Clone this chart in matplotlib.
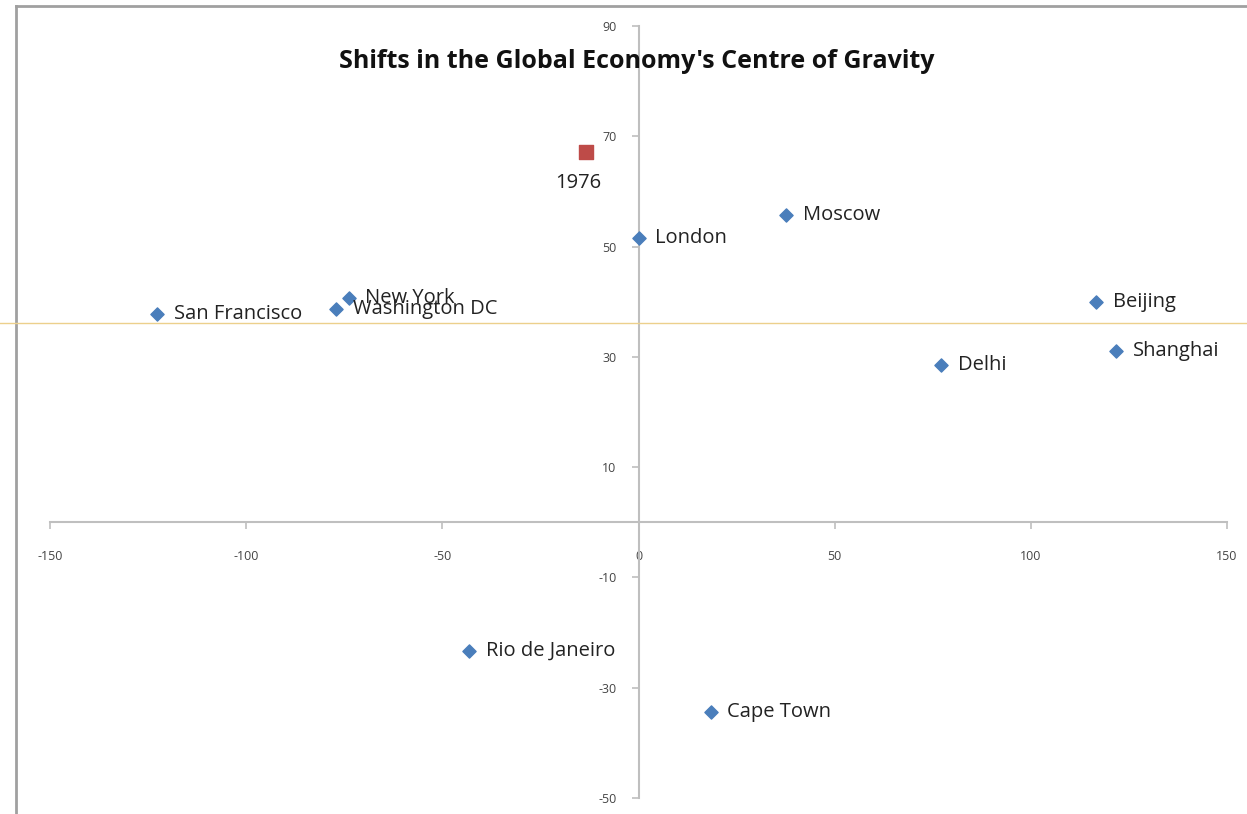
import matplotlib.pyplot as plt
from matplotlib.lines import Line2D

# ── data: longitude (x) / latitude (y) ─────────────────────────────────────
cities = ['London', 'Moscow', 'New York', 'Washington DC', 'San Francisco',
          'Beijing', 'Shanghai', 'Delhi', 'Rio de Janeiro', 'Cape Town']
lon = [0.0, 37.7, -73.9, -77.0, -122.6, 116.7, 121.8, 77.2, -43.1, 18.4]
lat = [51.5, 55.8, 40.7, 38.7, 37.8, 40.0, 31.1, 28.5, -23.3, -34.4]

centre_label = '1976'
centre_lon = [-13.3]
centre_lat = [67.1]

xticks = [-150, -100, -50, 0, 50, 100, 150]
yticks = [-50, -30, -10, 10, 30, 50, 70, 90]

plt.rcParams['font.family'] = ['Open Sans', 'DejaVu Sans']
plt.rcParams['axes.unicode_minus'] = False

fig = plt.figure(figsize=(12.47, 8.14), dpi=100)
ax = fig.add_axes([50 / 1247, 16 / 814, (1227 - 50) / 1247, (798 - 26) / 814])

ax.scatter(lon, lat, marker='D', s=45, color='#4a7ebb', zorder=3)
ax.scatter(centre_lon, centre_lat, marker='s', s=95, color='#be4b48', zorder=3)

for name, x, y in zip(cities, lon, lat):
    ax.annotate(name, (x, y), xytext=(12, 0), textcoords='offset points',
                ha='left', va='center', fontsize=14.5, color='#222222')
ax.annotate(centre_label, (centre_lon[0], centre_lat[0]), xytext=(-6, -22),
            textcoords='offset points', ha='center', va='center',
            fontsize=14.5, color='#222222')

ax.set_xlim(-150, 150)
ax.set_ylim(-50, 90)
ax.set_xticks(xticks)
ax.set_yticks(yticks)

for s in ('top', 'right'):
    ax.spines[s].set_visible(False)
ax.spines['left'].set_position(('data', 0))
ax.spines['bottom'].set_position(('data', 0))
for s in ('left', 'bottom'):
    ax.spines[s].set_color('#bfbfbf')
    ax.spines[s].set_linewidth(1.5)

ax.tick_params(axis='both', direction='out', length=5, width=1.2,
               color='#bfbfbf', labelsize=9, labelcolor='#444444')
ax.tick_params(axis='x', pad=15)
ax.tick_params(axis='y', pad=11)
ax.patch.set_visible(False)

fig.text(637 / 1247, 1 - 62 / 814, "Shifts in the Global Economy's Centre of Gravity",
         ha='center', va='center', fontsize=18, fontweight='bold', color='#111111')

# chart frame (left + top edges visible) and the thin stray guide line
fig.add_artist(Line2D([16 / 1247, 16 / 1247], [0, 1 - 6 / 814],
                      transform=fig.transFigure, color='#a0a0a0', lw=2))
fig.add_artist(Line2D([16 / 1247, 1], [1 - 6 / 814, 1 - 6 / 814],
                      transform=fig.transFigure, color='#a0a0a0', lw=2))
fig.add_artist(Line2D([0, 1], [1 - 323 / 814, 1 - 323 / 814],
                      transform=fig.transFigure, color='#ecd08c', lw=1))

fig.savefig('out.png', dpi=100)
